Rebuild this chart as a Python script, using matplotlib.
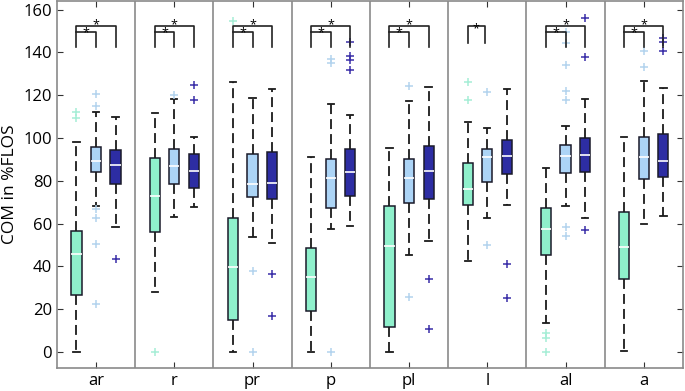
import matplotlib.pyplot as plt

plt.rcParams['font.family'] = ['Open Sans', 'DejaVu Sans']

categories = ['ar', 'r', 'pr', 'p', 'pl', 'l', 'al', 'a']

# box stats per group: [whislo, q1, med, q3, whishi]
green_stats = [
    [0, 26.8, 45.7, 56.6, 98.1],
    [28, 56.1, 73, 90.6, 111.5],
    [0, 14.7, 39.9, 62.4, 126],
    [0, 18.9, 34.9, 48.8, 91.1],
    [0, 11.5, 49.6, 68.3, 95.3],
    [42.6, 68.6, 76.3, 88.1, 107.7],
    [13.4, 45.5, 57.5, 67.4, 85.9],
    [0.2, 34.3, 49, 65.6, 100.6],
]
lightblue_stats = [
    [68, 84.2, 89.4, 96, 112.4],
    [63.3, 78.4, 86.7, 94.8, 118.2],
    [53.7, 72.4, 78.6, 92.5, 118.5],
    [57.4, 67.2, 81.5, 90.3, 115.9],
    [45.4, 69.4, 81.2, 90.3, 117.4],
    [62.4, 79.4, 91.1, 95.1, 104.8],
    [68.3, 83.6, 91.8, 96.7, 105.7],
    [60, 80.8, 90.9, 100.3, 126.8],
]
darkblue_stats = [
    [58.3, 78.3, 87.3, 94.2, 110],
    [67.7, 76.7, 84.4, 92.6, 100.7],
    [51.1, 71.6, 79.2, 93.6, 122.9],
    [59.1, 73.1, 83.9, 95.1, 110.6],
    [51.9, 71.6, 84.5, 96.5, 123.8],
    [68.9, 83.3, 91.4, 99, 122.7],
    [62.7, 83.9, 92, 99.9, 118.2],
    [63.6, 81.9, 89.4, 102.1, 123.2],
]

green_fliers = [
    [112, 109.5], [0], [154.5], [], [], [126, 117.9], [9, 6.4, 0], [],
]
lightblue_fliers = [
    [120.4, 114.8, 66.8, 62.8, 50.4, 22.3],
    [120.2],
    [37.9, 0],
    [137, 135, 0],
    [124.4, 25.9],
    [121.5, 49.9],
    [149.6, 144.4, 134, 122, 117.6, 58.6, 54.3],
    [140.5, 133.2],
]
darkblue_fliers = [
    [43.4],
    [124.9, 117.9],
    [36.6, 16.7],
    [144.9, 138.2, 136.3, 131.6],
    [34, 10.6],
    [41.3, 25.3],
    [156.3, 137.9, 56.8],
    [146.6, 145, 140.8],
]

# which categories get the green-vs-darkblue bracket too
two_brackets = [True, True, True, True, True, False, True, True]

fill_colors = ['#8ff0cc', '#acd4f6', '#2d2da3']
flier_colors = ['#a6eed6', '#b3d3ee', '#3a2fa8']
offsets = [-0.25, 0, 0.25]


def make_stats(rows, fliers):
    out = []
    for r, f in zip(rows, fliers):
        out.append(dict(whislo=r[0], q1=r[1], med=r[2], q3=r[3], whishi=r[4], fliers=f))
    return out


fig, ax = plt.subplots(figsize=(6.85, 3.91), dpi=100)
fig.subplots_adjust(left=0.083, right=0.997, bottom=0.059, top=0.997)

groups = [(green_stats, green_fliers), (lightblue_stats, lightblue_fliers),
          (darkblue_stats, darkblue_fliers)]
for k, (st, fl) in enumerate(groups):
    pos = [i + 1 + offsets[k] for i in range(len(categories))]
    ax.bxp(make_stats(st, fl), positions=pos, widths=0.13, capwidths=0.08,
           patch_artist=True, manage_ticks=False,
           boxprops=dict(facecolor=fill_colors[k], edgecolor='#1a1a2a', linewidth=1.1),
           medianprops=dict(color='white', linewidth=1.2),
           whiskerprops=dict(color='#1a1a1a', linewidth=1.3, linestyle=(0, (5.5, 2.8))),
           capprops=dict(color='#1a1a1a', linewidth=1.3),
           flierprops=dict(marker='+', markeredgecolor=flier_colors[k],
                           markersize=6, markeredgewidth=1.1, linestyle='none'))

# significance brackets
for i, two in enumerate(two_brackets):
    xg, xl, xd = i + 1 - 0.25, i + 1, i + 1 + 0.25
    if two:
        ax.plot([xg, xg, xd, xd], [142.5, 152.3, 152.3, 142.5], color='#222222', lw=1.2)
        ax.plot([xg, xl, xl], [149.8, 149.8, 142.5], color='#222222', lw=1.2)
        ax.text((xg + xl) / 2, 149.0, '*', ha='center', va='center', fontsize=9)
        ax.text(xl, 153.0, '*', ha='center', va='center', fontsize=9)
    else:
        ax.plot([xg, xg, xl - 0.03, xl - 0.03], [144.5, 152.3, 152.3, 144.5], color='#222222', lw=1.2)
        ax.text((xg + xl) / 2 - 0.02, 151.3, '*', ha='center', va='center', fontsize=9)

for s in range(len(categories) - 1):
    ax.axvline(s + 1.5, color='#8a8a8a', lw=1.2)

ax.set_xlim(0.5, len(categories) + 0.5)
ax.set_ylim(-7.5, 164)
ax.set_xticks(range(1, len(categories) + 1))
ax.set_xticklabels(categories)
ax.set_yticks(range(0, 161, 20))
ax.tick_params(direction='in', top=True, right=True, labelsize=12, color='#333333', length=4)
ax.set_ylabel('COM in %FLOS', fontsize=12.5)
for sp in ax.spines.values():
    sp.set_color('#8a8a8a')
    sp.set_linewidth(1.2)

plt.savefig('out.png')
